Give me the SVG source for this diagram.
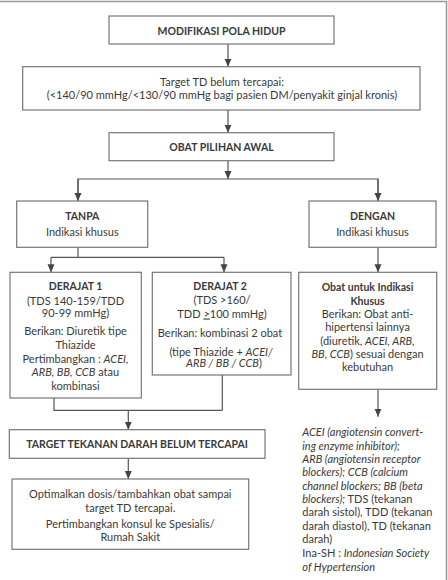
<svg xmlns="http://www.w3.org/2000/svg" width="448" height="580" viewBox="0 0 448 580">
<style>
.box{fill:#fff;stroke:#777;stroke-width:1.2}
.frame{stroke:#999;stroke-width:1.5;fill:none}
.c{fill:none;stroke:#555;stroke-width:1.2}
text{font-family:Lato,"Open Sans",sans-serif;font-size:11px;fill:#3a3a3a}
.m{text-anchor:middle}
.b{font-weight:bold;font-size:10.5px}
.i{font-style:italic}
</style>
<defs>
<marker id="ah" markerUnits="userSpaceOnUse" markerWidth="8" markerHeight="8" refX="8" refY="3.5" orient="auto">
<path d="M0,0 L8,3.5 L0,7 z" fill="#444"/>
</marker>
</defs>
<path class="frame" d="M0,1.5 H446.5 V580"/>
<g id="connectors">
<path class="c" d="M228,44 V66.7" marker-end="url(#ah)"/>
<path class="c" d="M228,110 V132.7" marker-end="url(#ah)"/>
<path class="c" d="M228,160.7 V179" marker-end="url(#ah)"/>
<path class="c" d="M78,201 V179 H378 V201" />
<path class="c" d="M78,179 V201" marker-end="url(#ah)"/>
<path class="c" d="M378,179 V201" marker-end="url(#ah)"/>
<path class="c" d="M78,247.3 V257.3 M51,257.3 H224"/>
<path class="c" d="M51,257.3 V272.3" marker-end="url(#ah)"/>
<path class="c" d="M224,257.3 V272.3" marker-end="url(#ah)"/>
<path class="c" d="M378,247.3 V272.3" marker-end="url(#ah)"/>
<path class="c" d="M54,398 V410.3 H222.3 M222.3,375 V410.3"/>
<path class="c" d="M128.3,410.3 V429.7" marker-end="url(#ah)"/>
<path class="c" d="M128.3,458.3 V479" marker-end="url(#ah)"/>
<path class="c" d="M378,389.3 V416.7" marker-end="url(#ah)"/>
</g>
<g id="modifikasi">
<rect class="box" x="109" y="16" width="225" height="28"/>
<text class="m b" x="221.5" y="35.3">MODIFIKASI POLA HIDUP</text>
</g>
<g id="target-td">
<rect class="box" x="22.7" y="66.7" width="397.3" height="43.3"/>
<text class="m" x="222" y="85.5">Target TD belum tercapai:</text>
<text class="m" x="222" y="99">(&lt;140/90 mmHg/&lt;130/90 mmHg bagi pasien DM/penyakit ginjal kronis)</text>
</g>
<g id="obat-awal">
<rect class="box" x="109" y="132.7" width="225" height="28"/>
<text class="m b" x="221.5" y="150.5">OBAT PILIHAN AWAL</text>
</g>
<g id="tanpa">
<rect class="box" x="16.7" y="201" width="131" height="46.3"/>
<text class="m b" x="82.3" y="219.5">TANPA</text>
<text class="m" x="82.3" y="235.5">Indikasi khusus</text>
</g>
<g id="dengan">
<rect class="box" x="309" y="201" width="127" height="46.3"/>
<text class="m b" x="372.5" y="219.5">DENGAN</text>
<text class="m" x="372.5" y="235.5">Indikasi khusus</text>
</g>
<g id="derajat1">
<rect class="box" x="10" y="272.3" width="131.3" height="125.7"/>
<text class="m b" x="75.5" y="289.5">DERAJAT 1</text>
<text class="m" x="75.5" y="304.5">(TDS 140-159/TDD</text>
<text class="m" x="75.5" y="316.5">90-99 mmHg)</text>
<text class="m" x="75.5" y="335">Berikan: Diuretik tipe</text>
<text class="m" x="75.5" y="349">Thiazide</text>
<text class="m" x="75.5" y="363">Pertimbangkan : <tspan class="i">ACEI,</tspan></text>
<text class="m" x="75.5" y="376.3"><tspan class="i">ARB, BB, CCB</tspan> atau</text>
<text class="m" x="75.5" y="389.7">kombinasi</text>
</g>
<g id="derajat2">
<rect class="box" x="152.3" y="272.3" width="138.7" height="102.7"/>
<text class="m b" x="220" y="289.5">DERAJAT 2</text>
<text class="m" x="222" y="304.2">(TDS &gt;160/</text>
<text class="m" x="222" y="317.5">TDD <tspan text-decoration="underline">&gt;</tspan>100 mmHg)</text>
<text class="m" x="220" y="336.5">Berikan: kombinasi 2 obat</text>
<text class="m" x="221" y="355.5">(tipe Thiazide + <tspan class="i">ACEI/</tspan></text>
<text class="m" x="224" y="367.3"><tspan class="i">ARB / BB / CCB</tspan>)</text>
</g>
<g id="obat-khusus">
<rect class="box" x="298.7" y="272.3" width="138" height="117"/>
<text class="m b" x="367.5" y="290.7">Obat untuk Indikasi</text>
<text class="m b" x="367.5" y="304.7">Khusus</text>
<text class="m" x="367.5" y="318">Berikan: Obat anti-</text>
<text class="m" x="367.5" y="331.3">hipertensi lainnya</text>
<text class="m" x="367.5" y="344.7">(diuretik, <tspan class="i">ACEI, ARB,</tspan></text>
<text class="m" x="367.5" y="358"><tspan class="i">BB, CCB</tspan>) sesuai dengan</text>
<text class="m" x="367.5" y="371.3">kebutuhan</text>
</g>
<g id="target-tekanan">
<rect class="box" x="9.3" y="429.7" width="255.7" height="28.6"/>
<text class="m b" x="137" y="448">TARGET TEKANAN DARAH BELUM TERCAPAI</text>
</g>
<g id="optimalkan">
<rect class="box" x="12" y="479" width="236.7" height="70.3"/>
<text class="m" x="130.3" y="498">Optimalkan dosis/tambahkan obat sampai</text>
<text class="m" x="130.3" y="511.7">target TD tercapai.</text>
<text class="m" x="130.3" y="528">Pertimbangkan konsul ke Spesialis/</text>
<text class="m" x="130.3" y="540.7">Rumah Sakit</text>
</g>
<g id="legend">
<text x="302.3" y="436.3" class="i">ACEI (angiotensin convert-</text>
<text x="302.3" y="449.7" class="i">ing enzyme inhibitor);</text>
<text x="302.3" y="463" class="i">ARB (angiotensin receptor</text>
<text x="302.3" y="476.3" class="i">blockers); CCB (calcium</text>
<text x="302.3" y="489.7" class="i">channel blockers; BB (beta</text>
<text x="302.3" y="503"><tspan class="i">blockers);</tspan> TDS (tekanan</text>
<text x="302.3" y="516.3">darah sistol), TDD (tekanan</text>
<text x="302.3" y="529.7">darah diastol), TD (tekanan</text>
<text x="302.3" y="543">darah)</text>
<text x="302.3" y="557.3">Ina-SH : <tspan class="i">Indonesian Society</tspan></text>
<text x="302.3" y="570.7" class="i">of Hypertension</text>
</g>
</svg>
